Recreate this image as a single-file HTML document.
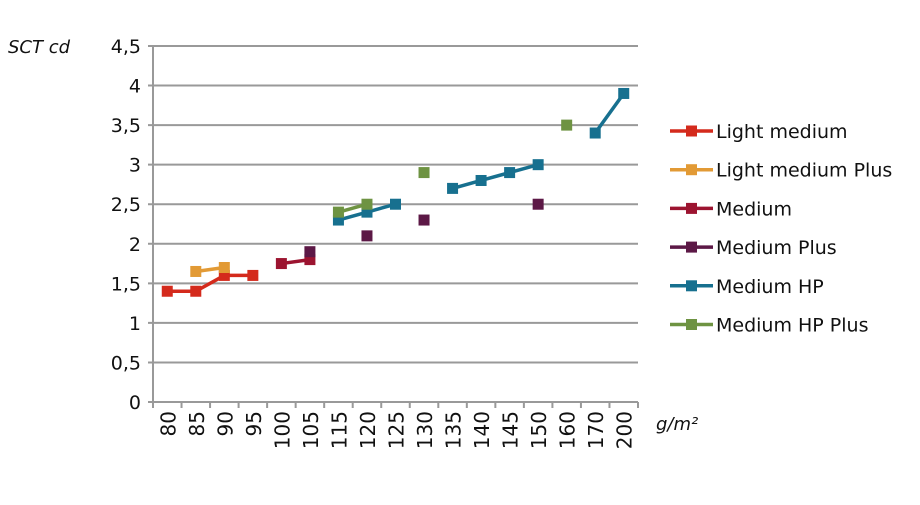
<!DOCTYPE html>
<html><head><meta charset="utf-8"><style>
body{margin:0;background:#fff;width:920px;height:500px;overflow:hidden}
svg{font-family:"DejaVu Sans","Liberation Sans",sans-serif}
</style></head><body>
<svg id="chart" width="920" height="500" xmlns="http://www.w3.org/2000/svg"></svg>
<script>
const categories=["80","85","90","95","100","105","115","120","125","130","135","140","145","150","160","170","200"];
const yTicks=[0,0.5,1,1.5,2,2.5,3,3.5,4,4.5];
const yTickLabels=["0","0,5","1","1,5","2","2,5","3","3,5","4","4,5"];
const seriesNames=["Light medium","Light medium Plus","Medium","Medium Plus","Medium HP","Medium HP Plus"];
const seriesColors=["#d42a1c","#e29a35","#9c1430","#5c1846","#17708f","#6e9342"];
const lightMedium=[1.4,1.4,1.6,1.6,null,null,null,null,null,null,null,null,null,null,null,null,null];
const lightMediumPlus=[null,1.65,1.7,null,null,null,null,null,null,null,null,null,null,null,null,null,null];
const medium=[null,null,null,null,1.75,1.8,null,null,null,null,null,null,null,null,null,null,null];
const mediumPlus=[null,null,null,null,null,1.9,null,2.1,null,2.3,null,null,null,2.5,null,null,null];
const mediumHP=[null,null,null,null,null,null,2.3,2.4,2.5,null,2.7,2.8,2.9,3.0,null,3.4,3.9];
const mediumHPPlus=[null,null,null,null,null,null,2.4,2.5,null,2.9,null,null,null,null,3.5,null,null];
const seriesValues=[lightMedium,lightMediumPlus,medium,mediumPlus,mediumHP,mediumHPPlus];

const NS="http://www.w3.org/2000/svg";
const svg=document.getElementById('chart');
const L=153,R=638,T=46,B=402,yMax=4.5;
const bw=(R-L)/categories.length;
const xs=i=>L+bw*(i+0.5);
const ys=v=>B-(v/yMax)*(B-T);
function mk(tag,attrs,parent){const e=document.createElementNS(NS,tag);for(const k in attrs)e.setAttribute(k,attrs[k]);(parent||svg).appendChild(e);return e;}

yTicks.forEach((t,i)=>{
  const g=mk('line',{x1:L-5,x2:R,y1:ys(t),y2:ys(t),stroke:'#999','stroke-width':2});
  
  
  const tx=mk('text',{x:L-12,y:ys(t)+7,'text-anchor':'end','font-size':19,fill:'#111'});
  tx.textContent=yTickLabels[i];
  
  
});
const ax=mk('line',{x1:L,x2:L,y1:T,y2:B+6,stroke:'#999','stroke-width':2});


for(let i=0;i<=categories.length;i++){
  const tk=mk('line',{x1:L+bw*i,x2:L+bw*i,y1:B,y2:B+6,stroke:'#999','stroke-width':2});
  
  
}
categories.forEach((c,i)=>{
  const tx=mk('text',{transform:`translate(${xs(i)+8},411) rotate(-90)`,'text-anchor':'end','font-size':20,fill:'#111'});
  tx.textContent=c;
  
  
});
const yt=mk('text',{x:8,y:53,'font-size':18,'font-style':'italic',fill:'#111'});
yt.textContent='SCT cd';


const xt=mk('text',{x:656,y:430,'font-size':18,'font-style':'italic',fill:'#111'});
xt.textContent='g/m²';



seriesValues.forEach((vals,s)=>{
  const col=seriesColors[s];
  for(let i=0;i<vals.length-1;i++){
    if(vals[i]!=null&&vals[i+1]!=null){
      const ln=mk('line',{x1:xs(i),y1:ys(vals[i]),x2:xs(i+1),y2:ys(vals[i+1]),stroke:col,'stroke-width':3.5});
      
      
    }
  }
  vals.forEach((v,i)=>{
    if(v==null)return;
    const r=mk('rect',{x:xs(i)-5.5,y:ys(v)-5.5,width:11,height:11,fill:col});
    
    
  });
});

seriesNames.forEach((n,s)=>{
  const y=131+s*38.7;
  const g=mk('g',{});
  
  
  mk('line',{x1:670,x2:713,y1:y,y2:y,stroke:seriesColors[s],'stroke-width':3.5},g);
  mk('rect',{x:686,y:y-5.5,width:11,height:11,fill:seriesColors[s]},g);
  const t=mk('text',{x:716,y:y+7,'font-size':19,fill:'#111'},g);
  t.textContent=n;
});
</script>
</body></html>
